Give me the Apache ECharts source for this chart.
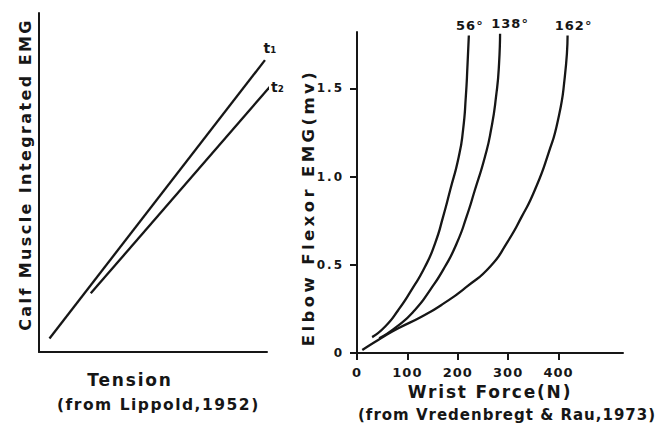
<!DOCTYPE html>
<html>
<head>
<meta charset="utf-8">
<script src="https://cdn.jsdelivr.net/npm/echarts@6/dist/echarts.min.js"></script>
<style>
  html, body { margin: 0; padding: 0; background: #ffffff; }
  #chart { width: 662px; height: 430px; }
  /* spaced-out lettering, keyed on the font sizes used below */
  #chart text[style*="16px"] { letter-spacing: 2.4px; }
  #chart text[style*="16.5px"] { letter-spacing: 3.4px; }
  #chart text[style*="17px"] { letter-spacing: 1.8px; }
  #chart text[style*="15px"] { letter-spacing: 1px; }
  #chart text[style*="15.5px"] { letter-spacing: 1.5px; }
  #chart text[style*="13px"] { letter-spacing: 1px; }
  #chart text[style*="12px"] { letter-spacing: 2px; }
</style>
</head>
<body>
<div id="chart"></div>
<script>
// Left panel: integrated EMG vs tension (arbitrary units, 0-100)
const tensionSeriesNames = ['t\u2081', 't\u2082'];
const tensionT1 = [[4.6, 4.0], [99.1, 86.1]];
const tensionT2 = [[22.7, 17.3], [108.3, 83.7]];

// Right panel: elbow flexor EMG (mV) vs wrist force (N) at three elbow angles
const angleNames = ['56\u00b0', '138\u00b0', '162\u00b0'];
const curve56 = [[30, 0.09], [56, 0.15], [82, 0.244], [108, 0.357], [135, 0.489], [155, 0.622],
                 [171, 0.773], [185, 0.924], [202, 1.113], [210.5, 1.264], [216, 1.453],
                 [219.5, 1.642], [222, 1.80]];
const curve138 = [[44, 0.083], [79, 0.149], [115, 0.244], [145, 0.357], [174.5, 0.489], [198, 0.622],
                  [217.5, 0.773], [234, 0.924], [254, 1.113], [266, 1.264], [276, 1.453],
                  [282, 1.642], [284, 1.81]];
const curve162 = [[10.5, 0.017], [42, 0.074], [82, 0.14], [128, 0.206], [170, 0.277], [218, 0.376],
                  [265, 0.492], [297, 0.622], [327, 0.773], [353, 0.924], [380, 1.132],
                  [399, 1.321], [412.5, 1.566], [418, 1.80]];
const forceTicks = [0, 100, 200, 300, 400];
const emgTicks = [0, 0.5, 1.0, 1.5];

const INK = '#161616';
const FONT = 'DejaVu Sans';

const chart = echarts.init(document.getElementById('chart'), null, { renderer: 'svg' });

const plainAxis = {
  axisLine: { show: true, onZero: false, lineStyle: { color: INK, width: 2 } },
  axisTick: { show: false },
  axisLabel: { show: false },
  splitLine: { show: false }
};

function lineSeries(name, data, xi, endLabel, extra) {
  return Object.assign({
    type: 'line',
    name: name,
    xAxisIndex: xi,
    yAxisIndex: xi,
    data: data,
    symbol: 'none',
    showSymbol: false,
    smooth: xi === 1 ? 0.6 : false,
    lineStyle: { color: INK, width: 2.3 },
    silent: true,
    animation: false,
    endLabel: Object.assign({
      show: true,
      formatter: '{a}',
      color: INK,
      fontFamily: FONT,
      fontWeight: 'bold',
      fontSize: 13
    }, endLabel)
  }, extra || {});
}

const option = {
  backgroundColor: '#ffffff',
  animation: false,
  title: [
    {
      text: '(from Lippold,1952)',
      left: 57, top: 397, padding: 0,
      textStyle: { color: INK, fontFamily: FONT, fontWeight: 'bold', fontSize: 15.5 }
    },
    {
      text: '(from Vredenbregt & Rau,1973)',
      left: 358, top: 407, padding: 0,
      textStyle: { color: INK, fontFamily: FONT, fontWeight: 'bold', fontSize: 15 }
    }
  ],
  grid: [
    { left: 39, top: 13, width: 228, height: 339, outerBoundsMode: 'none' },
    { left: 357, top: 32, width: 266, height: 321, outerBoundsMode: 'none' }
  ],
  xAxis: [
    Object.assign({}, plainAxis, {
      type: 'value', gridIndex: 0, min: 0, max: 100,
      name: 'Tension', nameLocation: 'middle', nameGap: 19,
      nameTextStyle: { color: INK, fontFamily: FONT, fontWeight: 'bold', fontSize: 17, padding: [0, 46, 0, 0] }
    }),
    {
      type: 'value', gridIndex: 1, min: 0, max: 528,
      axisLine: { show: true, onZero: false, lineStyle: { color: INK, width: 2 } },
      axisTick: { show: true, customValues: forceTicks, length: 7, lineStyle: { color: INK, width: 2 } },
      axisLabel: { show: true, customValues: forceTicks, margin: 13, color: INK,
                   fontFamily: FONT, fontWeight: 'bold', fontSize: 13 },
      splitLine: { show: false },
      name: 'Wrist Force(N)', nameLocation: 'middle', nameGap: 29,
      nameTextStyle: { color: INK, fontFamily: FONT, fontWeight: 'bold', fontSize: 17 }
    }
  ],
  yAxis: [
    Object.assign({}, plainAxis, {
      type: 'value', gridIndex: 0, min: 0, max: 100,
      name: 'Calf Muscle Integrated EMG', nameLocation: 'middle', nameRotate: 90, nameGap: 6,
      nameTextStyle: { color: INK, fontFamily: FONT, fontWeight: 'bold', fontSize: 16, padding: [0, 0, 0, 16] }
    }),
    {
      type: 'value', gridIndex: 1, min: 0, max: 1.82,
      axisLine: { show: true, onZero: false, lineStyle: { color: INK, width: 2 } },
      axisTick: { show: true, customValues: emgTicks, length: 7, lineStyle: { color: INK, width: 2 } },
      axisLabel: { show: true, customValues: emgTicks, margin: 13, color: INK,
                   fontFamily: FONT, fontWeight: 'bold', fontSize: 12,
                   formatter: v => (v === 0 ? '0' : v.toFixed(1)) },
      splitLine: { show: false },
      name: 'Elbow Flexor EMG(mv)', nameLocation: 'middle', nameRotate: 90, nameGap: 40,
      nameTextStyle: { color: INK, fontFamily: FONT, fontWeight: 'bold', fontSize: 16.5, padding: [0, 30, 0, 0] }
    }
  ],
  series: [
    lineSeries(tensionSeriesNames[0], tensionT1, 0,
      { align: 'center', verticalAlign: 'bottom', distance: 0, offset: [5, -5], fontSize: 14 }, { clip: false }),
    lineSeries(tensionSeriesNames[1], tensionT2, 0,
      { align: 'left', verticalAlign: 'middle', distance: 2, offset: [0, -1], fontSize: 14 }, { clip: false }),
    lineSeries(angleNames[0], curve56, 1,
      { align: 'center', verticalAlign: 'bottom', distance: 0, offset: [1, -4] }),
    lineSeries(angleNames[1], curve138, 1,
      { align: 'center', verticalAlign: 'bottom', distance: 0, offset: [10, -4] }),
    lineSeries(angleNames[2], curve162, 1,
      { align: 'center', verticalAlign: 'bottom', distance: 0, offset: [6, -4] })
  ]
};

chart.setOption(option);
</script>
</body>
</html>
